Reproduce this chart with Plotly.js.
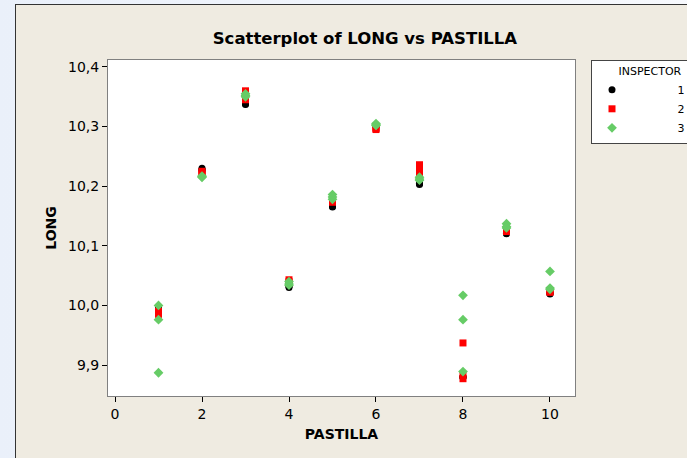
<!DOCTYPE html>
<html>
<head>
<meta charset="utf-8">
<script src="https://cdn.plot.ly/plotly-3.0.1.min.js"></script>
<style>
  html, body { margin: 0; padding: 0; width: 687px; height: 458px; overflow: hidden;
    background: linear-gradient(to right, #eaf0fa, #f7f9fd); }
  #frame { position: absolute; left: 15px; top: 4px; width: 672px; height: 454px;
    border-left: 1px solid #333; border-top: 1px solid #333; background: #EFEBE1; }
  #chart { width: 671px; height: 453px; }
</style>
</head>
<body>
<div id="frame"><div id="chart"></div></div>
<script>
// PASTILLA (x) for each measurement, three repeats per pastilla
const pastilla = [1,1,1, 2,2,2, 3,3,3, 4,4,4, 5,5,5, 6,6,6, 7,7,7, 8,8,8, 9,9,9, 10,10,10];

// LONG readings per inspector
const longInspector1 = [9.995,9.995,9.993, 10.230,10.228,10.226, 10.337,10.340,10.338, 10.032,10.030,10.033,
  10.165,10.166,10.168, 10.300,10.301,10.302, 10.203,10.204,10.205, 9.880,9.879,9.880,
  10.120,10.121,10.122, 10.019,10.020,10.021];
const longInspector2 = [9.990,9.985,9.990, 10.225,10.222,10.220, 10.360,10.355,10.345, 10.043,10.040,10.038,
  10.180,10.173,10.175, 10.298,10.295,10.297, 10.236,10.228,10.220, 9.937,9.884,9.877,
  10.125,10.127,10.124, 10.025,10.023,10.022];
const longInspector3 = [10.000,9.976,9.887, 10.217,10.215,10.216, 10.355,10.350,10.352, 10.040,10.036,10.034,
  10.186,10.178,10.182, 10.305,10.303,10.302, 10.215,10.210,10.212, 10.017,9.976,9.889,
  10.137,10.132,10.130, 10.057,10.029,10.027];

const inspectorNames = ['1', '2', '3'];
const xTicks = [0, 2, 4, 6, 8, 10];
const yTicks = [9.9, 10.0, 10.1, 10.2, 10.3, 10.4];

const pad = n => '\u00A0'.repeat(n);

const traces = [
  { x: pastilla, y: longInspector1, name: pad(13) + inspectorNames[0], type: 'scatter', mode: 'markers',
    marker: { symbol: 'circle', size: 7, color: '#000000' } },
  { x: pastilla, y: longInspector2, name: pad(13) + inspectorNames[1], type: 'scatter', mode: 'markers',
    marker: { symbol: 'square', size: 7, color: '#FF0000' } },
  { x: pastilla, y: longInspector3, name: pad(13) + inspectorNames[2], type: 'scatter', mode: 'markers',
    marker: { symbol: 'diamond', size: 7.5, color: '#66CC66' } }
];

const layout = {
  width: 671, height: 453,
  margin: { l: 92, r: 112, t: 55, b: 62 },
  paper_bgcolor: '#EFEBE1',
  plot_bgcolor: '#FFFFFF',
  separators: ', ',
  font: { family: 'DejaVu Sans, Verdana, sans-serif', color: '#000' },
  title: { text: '<b>Scatterplot of LONG vs PASTILLA</b>', x: 0.52, xref: 'container', xanchor: 'center',
    y: 1 - 33 / 453, yanchor: 'middle', yref: 'container',
    font: { family: 'DejaVu Sans, Verdana, sans-serif', size: 16.5, color: '#000' } },
  xaxis: {
    range: [-0.161, 10.575], tickvals: xTicks, ticktext: xTicks.map(String),
    showgrid: false, zeroline: false, showline: true, mirror: true, linecolor: '#808080', linewidth: 1,
    ticks: 'outside', ticklen: 5, tickcolor: '#000', tickfont: { size: 14 },
    title: { text: '<b>PASTILLA</b>', font: { size: 14 }, standoff: 8 }
  },
  yaxis: {
    range: [9.848, 10.4117], tickvals: yTicks, tickformat: '.1f',
    showgrid: false, zeroline: false, showline: true, mirror: true, linecolor: '#808080', linewidth: 1,
    ticks: 'outside', ticklen: 5, tickcolor: '#000', tickfont: { size: 14 },
    title: { text: '<b>LONG</b>', font: { size: 14 }, standoff: 8 }
  },
  showlegend: true,
  legend: {
    xref: 'container', yref: 'container',
    x: 575 / 671, xanchor: 'left', y: 1 - 55 / 453, yanchor: 'top',
    bgcolor: '#FFFFFF', bordercolor: '#444', borderwidth: 1,
    font: { size: 11, family: 'DejaVu Sans, Verdana, sans-serif' },
    title: { text: pad(7) + 'INSPECTOR', font: { size: 11 } },
    tracegroupgap: 0
  }
};

Plotly.newPlot('chart', traces, layout, { displayModeBar: false, staticPlot: true });
</script>
</body>
</html>
